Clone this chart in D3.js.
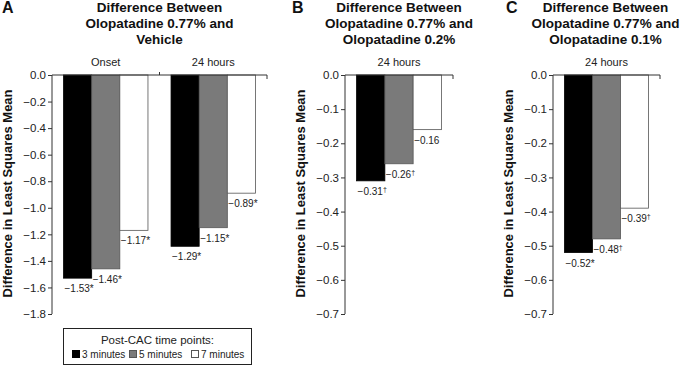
<!DOCTYPE html>
<html>
<head>
<meta charset="utf-8">
<script src="https://cdn.jsdelivr.net/npm/d3@7"></script>
<style>
  body { margin: 0; background: #fff; }
  svg { display: block; font-family: Arial, "Liberation Sans", Helvetica, sans-serif; }
</style>
</head>
<body>
<svg id="chart" width="680" height="365"></svg>
<script>
// ---- Data ----
const seriesNames = ["3 minutes", "5 minutes", "7 minutes"];
const seriesColors = ["#000000", "#7a7a7a", "#ffffff"];

const catsA = ["Onset", "24 hours"];
const min3A = [-1.53, -1.29];
const min5A = [-1.46, -1.15];
const min7A = [-1.17, -0.89];
const markA = [["*", "*"], ["*", "*"], ["*", "*"]];
const ticksA = [0, -0.2, -0.4, -0.6, -0.8, -1.0, -1.2, -1.4, -1.6, -1.8];

const catsB = ["24 hours"];
const min3B = [-0.31];
const min5B = [-0.26];
const min7B = [-0.16];
const markB = [["\u2020"], ["\u2020"], [""]];
const ticksB = [0, -0.1, -0.2, -0.3, -0.4, -0.5, -0.6, -0.7];

const catsC = ["24 hours"];
const min3C = [-0.52];
const min5C = [-0.48];
const min7C = [-0.39];
const markC = [["*"], ["\u2020"], ["\u2020"]];
const ticksC = [0, -0.1, -0.2, -0.3, -0.4, -0.5, -0.6, -0.7];

const titleA = ["Difference Between", "Olopatadine 0.77% and", "Vehicle"];
const titleB = ["Difference Between", "Olopatadine 0.77% and", "Olopatadine 0.2%"];
const titleC = ["Difference Between", "Olopatadine 0.77% and", "Olopatadine 0.1%"];
const yTitle = "Difference in Least Squares Mean";
const legendTitle = "Post-CAC time points:";

const svg = d3.select("#chart");
const fmt = v => (v < 0 ? "\u2212" : "") + Math.abs(v).toFixed(2);
const fmtTick = v => (v < 0 ? "\u2212" : "") + Math.abs(v).toFixed(1);

function panel(cfg) {
  const g = svg.append("g");
  const top = 75, bottom = 314;
  const x0 = d3.scaleBand().domain(cfg.cats).range([cfg.x0, cfg.x1]).paddingInner(0).paddingOuter(0);
  const x1 = d3.scaleBand().domain(d3.range(3)).range([0, x0.bandwidth()]).paddingInner(0).paddingOuter(0.41);
  const y = d3.scaleLinear().domain([0, cfg.ticks[cfg.ticks.length - 1]]).range([top, bottom]);

  // panel letter
  g.append("text").attr("x", cfg.letterX).attr("y", 13).attr("font-size", 16).attr("font-weight", "bold")
    .attr("fill", "#111").text(cfg.letter);
  // title
  const tcx = (cfg.x0 + cfg.x1) / 2;
  cfg.title.forEach((t, i) => {
    g.append("text").attr("x", tcx + (cfg.titleDx || 0)).attr("y", 12 + i * 16).attr("text-anchor", "middle")
      .attr("font-size", 13.5).attr("font-weight", "bold").attr("fill", "#111").text(t);
  });
  // category labels
  g.selectAll(".cat").data(cfg.cats).join("text")
    .attr("x", d => x0(d) + x0.bandwidth() / 2).attr("y", 66).attr("text-anchor", "middle")
    .attr("font-size", 11).attr("fill", "#222").text(d => d);

  // bars
  const series = [cfg.s3, cfg.s5, cfg.s7];
  series.forEach((vals, si) => {
    vals.forEach((v, ci) => {
      const bx = x0(cfg.cats[ci]) + x1(si);
      g.append("rect").attr("x", bx).attr("y", y(0)).attr("width", x1.bandwidth())
        .attr("height", y(v) - y(0)).attr("fill", seriesColors[si])
        .attr("stroke", si === 0 ? "#000" : "#555").attr("stroke-width", 0.8);
      const t = g.append("text").attr("x", bx + 1).attr("y", y(v) + 14).attr("font-size", 10)
        .attr("fill", "#222").text(fmt(v));
      const m = cfg.marks[si][ci];
      if (m === "\u2020") {
        t.append("tspan").attr("font-size", 7).attr("dy", -3).text(m);
      } else if (m) {
        t.append("tspan").text(m);
      }
    });
  });

  // y axis
  const ax = g.append("g").attr("transform", `translate(${cfg.x0},0)`)
    .call(d3.axisLeft(y).tickValues(cfg.ticks).tickFormat(fmtTick).tickSize(4).tickPadding(2));
  ax.select(".domain").attr("stroke", "#333").attr("d", `M0,${top}V${bottom}`);
  ax.selectAll(".tick line").attr("stroke", "#333");
  ax.selectAll(".tick text").attr("font-size", 11.5).attr("fill", "#222").attr("font-family", "Arial, 'Liberation Sans', sans-serif");

  // top line with ticks at category boundaries
  g.append("line").attr("x1", cfg.x0).attr("x2", cfg.x1).attr("y1", top).attr("y2", top).attr("stroke", "#333");
  cfg.cats.forEach((c, i) => {
    const xe = x0(c) + x0.bandwidth();
    const last = i === cfg.cats.length - 1;
    g.append("line").attr("x1", xe).attr("x2", xe).attr("y1", top).attr("y2", last ? top + 4 : top - 3).attr("stroke", "#333");
  });

  // y title
  g.append("text").attr("transform", `translate(${cfg.yTitleX},${(top + bottom) / 2 - 1}) rotate(-90)`)
    .attr("text-anchor", "middle").attr("font-size", 13).attr("font-weight", "bold").attr("fill", "#111").text(yTitle);
}

panel({ letter: "A", letterX: 2, title: titleA, cats: catsA, s3: min3A, s5: min5A, s7: min7A, marks: markA, ticks: ticksA, x0: 52, x1: 267, yTitleX: 12 });
panel({ letter: "B", letterX: 292, title: titleB, cats: catsB, s3: min3B, s5: min5B, s7: min7B, marks: markB, ticks: ticksB, x0: 345, x1: 453, yTitleX: 305 });
panel({ letter: "C", letterX: 506, title: titleC, cats: catsC, s3: min3C, s5: min5C, s7: min7C, marks: markC, ticks: ticksC, x0: 553, x1: 660, yTitleX: 513, titleDx: -1 });

// legend
const lg = svg.append("g");
lg.append("rect").attr("x", 63.5).attr("y", 328.5).attr("width", 188).attr("height", 36).attr("fill", "#fff").attr("stroke", "#222");
lg.append("text").attr("x", 157.5).attr("y", 344).attr("text-anchor", "middle").attr("font-size", 11.5).attr("fill", "#222").text(legendTitle);
const legX = [72, 129, 191];
seriesNames.forEach((n, i) => {
  lg.append("rect").attr("x", legX[i] + 0.5).attr("y", 350.5).attr("width", 7).attr("height", 7)
    .attr("fill", seriesColors[i]).attr("stroke", i === 0 ? "#000" : "#555");
  lg.append("text").attr("x", legX[i] + 10).attr("y", 358).attr("font-size", 10).attr("fill", "#222").text(n);
});
</script>
</body>
</html>
